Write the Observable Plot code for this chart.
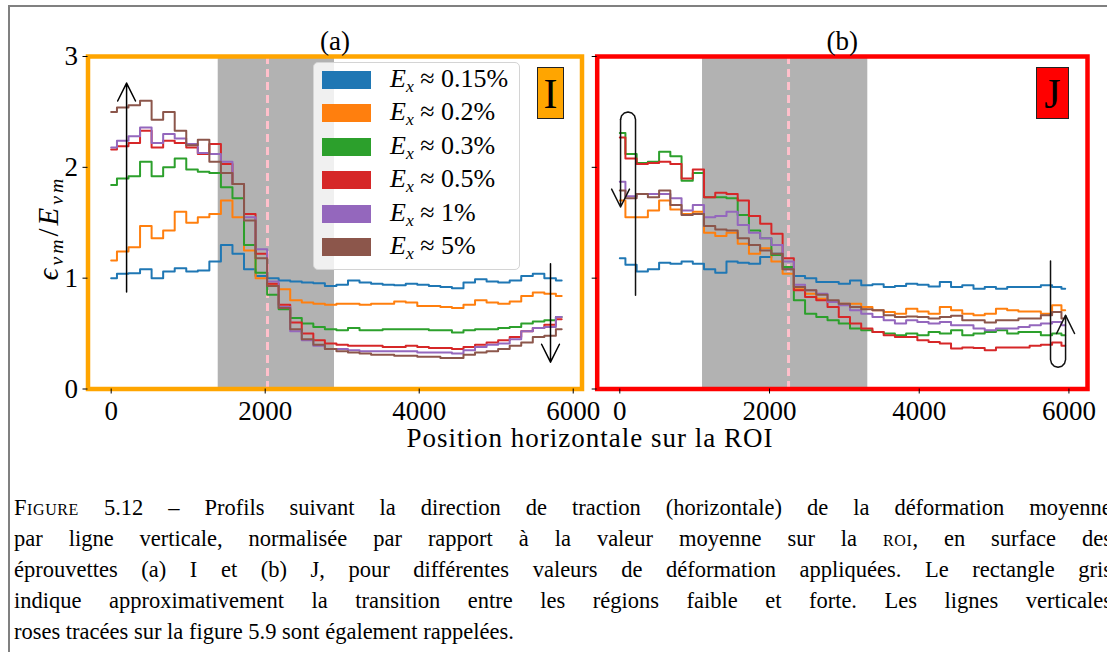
<!DOCTYPE html>
<html><head><meta charset="utf-8">
<script src="https://cdn.jsdelivr.net/npm/d3@7"></script>
<script src="https://cdn.jsdelivr.net/npm/@observablehq/plot@0.6"></script>
<style>
html,body{margin:0;padding:0;background:#fff;}
body{width:1107px;height:652px;overflow:hidden;position:relative;font-family:"Liberation Serif","Times New Roman",Times,"DejaVu Serif",serif;color:#000;}
#outer{position:absolute;left:8px;top:5px;width:1300px;height:800px;border-left:2px solid #808080;border-top:2px solid #808080;}
.abs{position:absolute;}
svg.plotsvg{position:absolute;left:0;top:0;}
#legend{position:absolute;left:313px;top:62px;width:207px;height:208px;box-sizing:border-box;border:1px solid #d4d4d4;border-radius:5px;background:rgba(255,255,255,0.8);}
.sw{position:absolute;left:8px;width:49px;height:18px;}
.lt{position:absolute;left:76px;font-size:26px;line-height:26px;white-space:nowrap;}
sub{font-size:68%;vertical-align:-0.3em;line-height:0;}
.tag{position:absolute;box-sizing:border-box;border:1.5px solid #222;text-align:center;font-size:42px;line-height:52px;}
#cap{position:absolute;left:14px;top:492px;width:1098px;font-size:22.5px;line-height:31px;}
#cap .j{display:flex;justify-content:space-between;white-space:nowrap;}
#cap span{white-space:nowrap;}
.sc{font-variant:small-caps;letter-spacing:0.6px;}
</style>
</head><body>
<div id="outer"></div>
<div id="root"></div>
<script>
// ---------- data ----------
const labels = ["0.15%", "0.2%", "0.3%", "0.5%", "1%", "5%"];
const colors = ["#1f77b4", "#ff7f0e", "#2ca02c", "#d62728", "#9467bd", "#8c564b"];

const xsA = [0,150,300,450,600,750,900,1050,1200,1350,1500,1650,1800,1950,2100,2250,2400,2550,2700,2850,3000,3150,3300,3450,3600,3750,3900,4050,4200,4350,4500,4650,4800,4950,5100,5250,5400,5550,5700,5850];
const a015 = [1.00,1.04,1.045,1.08,1.0,1.06,1.09,1.06,1.07,1.15,1.30,1.22,1.08,1.02,1.0,0.98,0.97,0.96,0.955,0.93,0.94,0.98,0.96,0.95,0.94,0.935,0.95,0.94,0.93,0.92,0.91,0.96,0.99,0.97,0.96,0.98,1.02,1.04,1.0,0.98];
const a02  = [1.16,1.24,1.28,1.47,1.36,1.43,1.60,1.50,1.55,1.58,1.70,1.55,1.25,1.0,0.95,0.90,0.80,0.78,0.77,0.76,0.77,0.77,0.76,0.77,0.77,0.79,0.78,0.75,0.75,0.74,0.73,0.76,0.80,0.78,0.77,0.79,0.84,0.87,0.86,0.84];
const a03  = [1.84,1.90,1.92,2.05,1.92,2.0,2.08,1.98,1.96,1.95,1.82,1.72,1.30,1.05,0.85,0.72,0.64,0.59,0.56,0.54,0.53,0.55,0.53,0.53,0.54,0.54,0.54,0.54,0.53,0.53,0.51,0.53,0.54,0.54,0.55,0.56,0.59,0.61,0.62,0.65];
const a05  = [2.16,2.19,2.22,2.33,2.18,2.24,2.22,2.18,2.12,2.21,2.03,1.85,1.58,1.22,0.95,0.76,0.60,0.50,0.44,0.41,0.40,0.39,0.39,0.39,0.38,0.38,0.39,0.38,0.37,0.37,0.36,0.38,0.40,0.42,0.44,0.47,0.52,0.55,0.58,0.63];
const a1   = [2.18,2.24,2.28,2.36,2.22,2.30,2.26,2.21,2.13,2.12,2.05,1.85,1.55,1.26,0.97,0.74,0.52,0.44,0.39,0.36,0.36,0.35,0.34,0.34,0.34,0.34,0.34,0.33,0.33,0.33,0.32,0.35,0.38,0.40,0.41,0.45,0.52,0.55,0.56,0.65];
const a5   = [2.50,2.54,2.56,2.60,2.43,2.50,2.33,2.20,2.25,2.05,1.95,1.85,1.52,1.18,0.93,0.73,0.54,0.45,0.40,0.36,0.34,0.33,0.32,0.31,0.31,0.30,0.30,0.29,0.29,0.28,0.28,0.31,0.33,0.34,0.36,0.39,0.42,0.47,0.48,0.54];

const xsB = [0,150,300,450,600,750,900,1050,1200,1350,1500,1650,1800,1950,2100,2250,2400,2550,2700,2850,3000,3150,3300,3450,3600,3750,3900,4050,4200,4350,4500,4650,4800,4950,5100,5250,5400,5550,5700,5850,5950];
const b015 = [1.18,1.12,1.06,1.08,1.14,1.13,1.15,1.13,1.08,1.05,1.15,1.14,1.13,1.19,1.22,1.08,1.02,1.0,0.965,0.965,0.95,0.98,0.935,0.945,0.92,0.93,0.95,0.94,0.925,0.965,0.92,0.935,0.905,0.92,0.905,0.92,0.92,0.92,0.935,0.92,0.905];
const b02  = [1.70,1.55,1.55,1.61,1.70,1.62,1.58,1.60,1.41,1.38,1.41,1.31,1.22,1.27,1.15,1.04,0.90,0.86,0.815,0.785,0.77,0.77,0.74,0.71,0.695,0.68,0.725,0.70,0.68,0.74,0.71,0.68,0.665,0.68,0.725,0.71,0.70,0.70,0.68,0.755,0.71];
const b03  = [2.31,2.12,2.04,2.05,2.14,2.10,1.88,1.95,1.73,1.73,1.72,1.57,1.43,1.36,1.21,1.10,0.80,0.68,0.65,0.62,0.59,0.545,0.53,0.515,0.50,0.485,0.50,0.485,0.515,0.50,0.53,0.485,0.50,0.515,0.53,0.50,0.515,0.515,0.485,0.50,0.485];
const b05  = [2.27,2.08,2.03,2.04,2.05,2.03,1.90,1.98,1.73,1.77,1.76,1.70,1.56,1.49,1.40,1.18,0.89,0.83,0.80,0.74,0.65,0.59,0.545,0.515,0.485,0.47,0.47,0.44,0.425,0.41,0.365,0.375,0.37,0.35,0.375,0.375,0.375,0.39,0.40,0.42,0.39];
const b1   = [1.87,1.74,1.76,1.76,1.76,1.72,1.61,1.66,1.55,1.56,1.60,1.48,1.41,1.36,1.30,1.15,0.94,0.89,0.86,0.785,0.755,0.71,0.68,0.65,0.62,0.59,0.62,0.605,0.59,0.605,0.575,0.575,0.545,0.53,0.545,0.545,0.56,0.575,0.59,0.605,0.575];
const b5   = [1.79,1.72,1.76,1.73,1.79,1.66,1.57,1.58,1.47,1.44,1.43,1.36,1.30,1.25,1.22,1.08,0.92,0.89,0.85,0.80,0.77,0.74,0.72,0.71,0.665,0.65,0.655,0.65,0.635,0.65,0.66,0.62,0.62,0.60,0.62,0.62,0.635,0.635,0.665,0.695,0.635];

const xTicks = [0, 2000, 4000, 6000];
const yTicks = [0, 1, 2, 3];
const shadeA = [{x1: 1390, x2: 2900}];
const shadeB = [{x1: 1105, x2: 3313}];
const pinkA = [2030];
const pinkB = [2254];
// annotation arrows (data units)
const arrowsA = [{x1: 200, y1: 0.875, x2: 200, y2: 2.76}, {x1: 5705, y1: 1.13, x2: 5705, y2: 0.242}];
const loopB1 = [[210,0.845],[210,2.432],[196.6,2.466],[160,2.491],[110,2.50],[60,2.491],[23.4,2.466],[10,2.432]];
const arrowB1 = [{x1: 10, y1: 2.432, x2: 10, y2: 1.642}];
const loopB2 = [[5754,1.154],[5754,0.265],[5767.5,0.231],[5804,0.206],[5854.5,0.197],[5905,0.206],[5941.5,0.231],[5955,0.265],[5955,0.664]];
const headB2 = [[5835,0.501],[5955,0.664],[6075,0.501]];

// caption: {…} marks small capitals
const captionLines = [
  "{Figure} 5.12 \u2013 Profils suivant la direction de traction (horizontale) de la déformation moyenne",
  "par ligne verticale, normalisée par rapport à la valeur moyenne sur la {roi}, en surface des",
  "éprouvettes (a) I et (b) J, pour différentes valeurs de déformation appliquées. Le rectangle gris",
  "indique approximativement la transition entre les régions faible et forte. Les lignes verticales",
  "roses tracées sur la figure 5.9 sont également rappelées."
];

// ---------- build ----------
function rows(xs, series) {
  const out = [];
  series.forEach((ys, k) => ys.forEach((y, i) => out.push({x: xs[i], y, s: labels[k]})));
  return out;
}
const rowsA = rows(xsA, [a015, a02, a03, a05, a1, a5]);
const rowsB = rows(xsB, [b015, b02, b03, b05, b1, b5]);

const FONT = "'Liberation Serif', 'Times New Roman', Times, 'DejaVu Serif', serif";
const baseStyle = {background: "transparent", overflow: "visible", fontFamily: FONT, fontSize: "27px", color: "black"};
const fmt = d3.format("d");

const plotA = Plot.plot({
  width: 600, height: 440,
  marginLeft: 87.5, marginRight: 18.5, marginTop: 56, marginBottom: 51.5,
  x: {domain: [-301, 6114]},
  y: {domain: [0, 3]},
  color: {domain: labels, range: colors},
  style: baseStyle,
  marks: [
    Plot.rect(shadeA, {x1: "x1", x2: "x2", fill: "#b2b2b2"}),
    Plot.ruleX(pinkA, {stroke: "pink", strokeWidth: 3, strokeDasharray: "8,5"}),
    Plot.line(rowsA, {x: "x", y: "y", z: "s", stroke: "s", strokeWidth: 2, curve: "step"}),
    Plot.arrow(arrowsA, {x1: "x1", y1: "y1", x2: "x2", y2: "y2", stroke: "black", strokeWidth: 1.5, headLength: 20, headAngle: 53}),
    Plot.frame({stroke: "orange", strokeWidth: 4.5}),
    Plot.axisX({ticks: xTicks, tickFormat: fmt, tickSize: 5, tickPadding: 7, label: null}),
    Plot.axisY({ticks: yTicks, tickFormat: fmt, tickSize: 5, tickPadding: 5, label: null}),
    Plot.text(["(a)"], {text: d => d, frameAnchor: "top", lineAnchor: "middle", dy: -15})
  ]
});
plotA.classList.add("plotsvg");

const plotB = Plot.plot({
  width: 1107, height: 440,
  marginLeft: 596.7, marginRight: 20, marginTop: 56, marginBottom: 51.5,
  x: {domain: [-302, 6248]},
  y: {domain: [0, 3]},
  color: {domain: labels, range: colors},
  style: baseStyle,
  marks: [
    Plot.rect(shadeB, {x1: "x1", x2: "x2", fill: "#b2b2b2"}),
    Plot.ruleX(pinkB, {stroke: "pink", strokeWidth: 3, strokeDasharray: "8,5"}),
    Plot.line(rowsB, {x: "x", y: "y", z: "s", stroke: "s", strokeWidth: 2, curve: "step"}),
    Plot.line(loopB1, {x: d => d[0], y: d => d[1], stroke: "#111", strokeWidth: 1.5}),
    Plot.arrow(arrowB1, {x1: "x1", y1: "y1", x2: "x2", y2: "y2", stroke: "#111", strokeWidth: 1.5, headLength: 20, headAngle: 53}),
    Plot.line(loopB2, {x: d => d[0], y: d => d[1], stroke: "#111", strokeWidth: 1.5}),
    Plot.line(headB2, {x: d => d[0], y: d => d[1], stroke: "#111", strokeWidth: 1.5}),
    Plot.frame({stroke: "red", strokeWidth: 4.5}),
    Plot.axisX({ticks: xTicks, tickFormat: fmt, tickSize: 5, tickPadding: 7, label: null}),
    Plot.axisY({ticks: yTicks, tickFormat: () => "", tickSize: 5, label: null}),
    Plot.text(["(b)"], {text: d => d, frameAnchor: "top", lineAnchor: "middle", dy: -15})
  ]
});
plotB.classList.add("plotsvg");

const root = document.getElementById("root");
root.appendChild(plotA);
root.appendChild(plotB);

// legend
const leg = document.createElement("div");
leg.id = "legend";
labels.forEach((lab, k) => {
  const cy = 17 + k * 33.4;
  const sw = document.createElement("div");
  sw.className = "sw";
  sw.style.top = (cy - 9) + "px";
  sw.style.background = colors[k];
  leg.appendChild(sw);
  const t = document.createElement("div");
  t.className = "lt";
  t.style.top = (cy - 14) + "px";
  t.innerHTML = "<i>E</i><sub><i>x</i></sub> \u2248 " + lab;
  leg.appendChild(t);
});
root.appendChild(leg);

// tags
const tI = document.createElement("div");
tI.className = "tag"; tI.textContent = "I";
Object.assign(tI.style, {left: "537px", top: "67px", width: "27px", height: "52px", background: "orange"});
root.appendChild(tI);
const tJ = document.createElement("div");
tJ.className = "tag"; tJ.textContent = "J";
Object.assign(tJ.style, {left: "1036px", top: "67px", width: "33px", height: "52px", background: "red"});
root.appendChild(tJ);

// axis labels
const xl = document.createElement("div");
xl.className = "abs";
Object.assign(xl.style, {left: "590px", top: "438px", transform: "translate(-50%,-50%)", fontSize: "27px", lineHeight: "27px", letterSpacing: "1px", whiteSpace: "nowrap"});
xl.textContent = "Position horizontale sur la ROI";
root.appendChild(xl);

const yl = document.createElement("div");
yl.className = "abs";
Object.assign(yl.style, {left: "48px", top: "228px", transform: "translate(-50%,-50%) rotate(-90deg)", fontSize: "29px", lineHeight: "29px", letterSpacing: "3px", whiteSpace: "nowrap"});
yl.innerHTML = "<i>\u03F5</i><sub><i>vm</i></sub>/<i>E</i><sub><i>vm</i></sub>";
root.appendChild(yl);

// caption: justified lines built word by word
function wordHTML(w) {
  return w.replace(/\{([^}]*)\}/g, '<span class="sc">$1</span>');
}
const cap = document.createElement("div");
cap.id = "cap";
captionLines.forEach((line, i) => {
  const div = document.createElement("div");
  if (i < captionLines.length - 1) {
    div.className = "j";
    line.split(" ").forEach(w => {
      const s = document.createElement("span");
      s.innerHTML = wordHTML(w);
      div.appendChild(s);
    });
  } else {
    div.innerHTML = wordHTML(line);
  }
  cap.appendChild(div);
});
root.appendChild(cap);
</script>
</body></html>
